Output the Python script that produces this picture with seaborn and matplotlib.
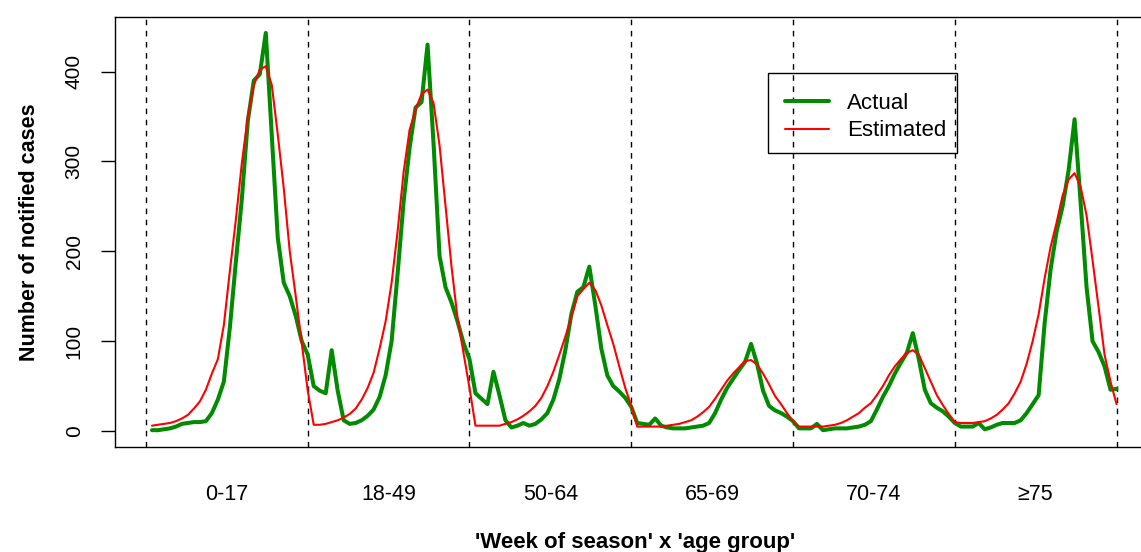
import numpy as np
import pandas as pd
import matplotlib
matplotlib.use("Agg")
import matplotlib.pyplot as plt
from matplotlib.patches import Rectangle
import seaborn as sns

# Age groups and weekly notified cases (27 weeks of season per group)
age_groups = ["0-17", "18-49", "50-64", "65-69", "70-74", "\u226575"]
weeks_per_group = 27

actual_0_17 = [1, 1, 2, 3, 5, 8, 9, 10, 10, 11, 20, 35, 55, 115, 188, 258, 345, 390, 397, 443, 330, 215, 165, 150, 128, 100, 85]
actual_18_49 = [50, 45, 42, 90, 45, 12, 8, 9, 12, 17, 24, 38, 62, 100, 175, 255, 315, 360, 366, 430, 320, 195, 160, 143, 122, 98, 80]
actual_50_64 = [42, 36, 30, 66, 40, 12, 4, 6, 9, 6, 8, 13, 20, 35, 58, 90, 130, 155, 160, 183, 140, 92, 62, 50, 44, 37, 27]
actual_65_69 = [9, 8, 7, 14, 6, 4, 3, 3, 3, 4, 5, 6, 9, 20, 35, 48, 58, 68, 77, 97, 75, 45, 28, 23, 20, 16, 11]
actual_70_74 = [3, 3, 3, 8, 1, 2, 3, 3, 3, 4, 5, 7, 11, 24, 38, 50, 64, 76, 87, 109, 80, 46, 31, 26, 22, 16, 9]
actual_75_plus = [5, 5, 5, 9, 2, 4, 7, 9, 9, 9, 12, 20, 30, 40, 120, 180, 222, 250, 290, 347, 255, 160, 100, 88, 72, 46, 47]

estimated_0_17 = [6, 7, 8, 9, 11, 14, 18, 25, 33, 46, 64, 80, 118, 178, 235, 298, 350, 385, 402, 406, 385, 330, 270, 200, 150, 98, 45]
estimated_18_49 = [7, 7, 8, 10, 12, 15, 19, 25, 35, 48, 65, 92, 122, 165, 222, 288, 335, 358, 375, 380, 365, 318, 250, 183, 126, 87, 48]
estimated_50_64 = [6, 6, 6, 6, 6, 8, 10, 13, 17, 22, 28, 37, 50, 66, 85, 105, 127, 150, 158, 165, 157, 140, 118, 97, 72, 48, 28]
estimated_65_69 = [5, 5, 5, 5, 5, 6, 7, 8, 10, 12, 16, 21, 27, 36, 46, 56, 64, 71, 78, 79, 74, 64, 52, 39, 30, 20, 11]
estimated_70_74 = [5, 5, 5, 5, 5, 6, 7, 9, 12, 16, 20, 26, 31, 40, 50, 62, 72, 80, 87, 90, 85, 70, 55, 40, 29, 19, 10]
estimated_75_plus = [9, 9, 9, 10, 11, 14, 18, 24, 31, 42, 55, 75, 100, 130, 170, 205, 232, 262, 280, 287, 272, 240, 190, 138, 85, 55, 30]

actual = (actual_0_17 + actual_18_49 + actual_50_64 + actual_65_69
          + actual_70_74 + actual_75_plus)
estimated = (estimated_0_17 + estimated_18_49 + estimated_50_64
             + estimated_65_69 + estimated_70_74 + estimated_75_plus)

n_total = len(actual)
index = np.arange(1, n_total + 1)
df = pd.DataFrame({"index": index, "Actual": actual, "Estimated": estimated})

sns.set_style("white")
plt.rcParams["font.family"] = ["Liberation Sans", "DejaVu Sans"]
plt.rcParams.update({"text.color": "black", "axes.labelcolor": "black",
                     "xtick.color": "black", "ytick.color": "black"})

W, H = 1141, 552
fig = plt.figure(figsize=(W / 100, H / 100), dpi=100)
ax = fig.add_axes([115 / W, 1 - 447 / H, 1041 / W, 430 / H])

sns.lineplot(data=df, x="index", y="Actual", ax=ax, color="#008B00",
             linewidth=2.9, label="Actual", solid_capstyle="round")
sns.lineplot(data=df, x="index", y="Estimated", ax=ax, color="#FF0000",
             linewidth=1.5, label="Estimated", solid_capstyle="round")

# Group boundaries
for k in range(len(age_groups) + 1):
    ax.axvline(k * weeks_per_group, color="black", linestyle=(0, (4, 4)),
               linewidth=1.0, zorder=1)

# x range: a little room on both sides of the boundaries
x_left = -5.17
ax.set_xlim(x_left, x_left + 173.76)
ymin, ymax = 0, max(max(actual), max(estimated))
ax.set_ylim(ymin - 0.04 * (ymax - ymin), ymax + 0.04 * (ymax - ymin))

centers = [weeks_per_group * k + weeks_per_group / 2 for k in range(len(age_groups))]
ax.set_xticks(centers)
ax.set_xticklabels(age_groups)
ax.set_yticks([0, 100, 200, 300, 400])
ax.tick_params(axis="x", length=0, pad=27, labelsize=15.5, colors="black")
ax.tick_params(axis="y", length=10, width=1, direction="out", pad=12.5,
               labelsize=15, labelrotation=90, colors="black", left=True)
for lbl in ax.get_yticklabels():
    lbl.set_verticalalignment("center")

for sp in ax.spines.values():
    sp.set_visible(True)
    sp.set_color("black")
    sp.set_linewidth(1.0)

ax.set_xlabel("'Week of season' x 'age group'", fontsize=16,
              fontweight="bold", labelpad=19, color="black")
ax.set_ylabel("Number of notified cases", fontsize=15.5,
              fontweight="bold", labelpad=18, color="black")

# Legend entries, with a plain rectangular box around them
box_left, box_top, box_right, box_bottom = 768, 73, 957, 153
leg = ax.legend(loc="upper left",
                bbox_to_anchor=((box_left - 115) / 1041, (447 - box_top - 3) / 430),
                borderaxespad=0, frameon=False, fontsize=16,
                handlelength=2.0, handletextpad=0.8, borderpad=0.75,
                labelspacing=0.3)
for txt in leg.get_texts():
    txt.set_color("black")
ax.add_patch(Rectangle(((box_left - 115) / 1041, (447 - box_bottom) / 430),
                       (box_right - box_left) / 1041, (box_bottom - box_top) / 430,
                       transform=ax.transAxes, fill=False, edgecolor="black",
                       linewidth=1.0, zorder=5))

fig.savefig("out.png", dpi=100)
